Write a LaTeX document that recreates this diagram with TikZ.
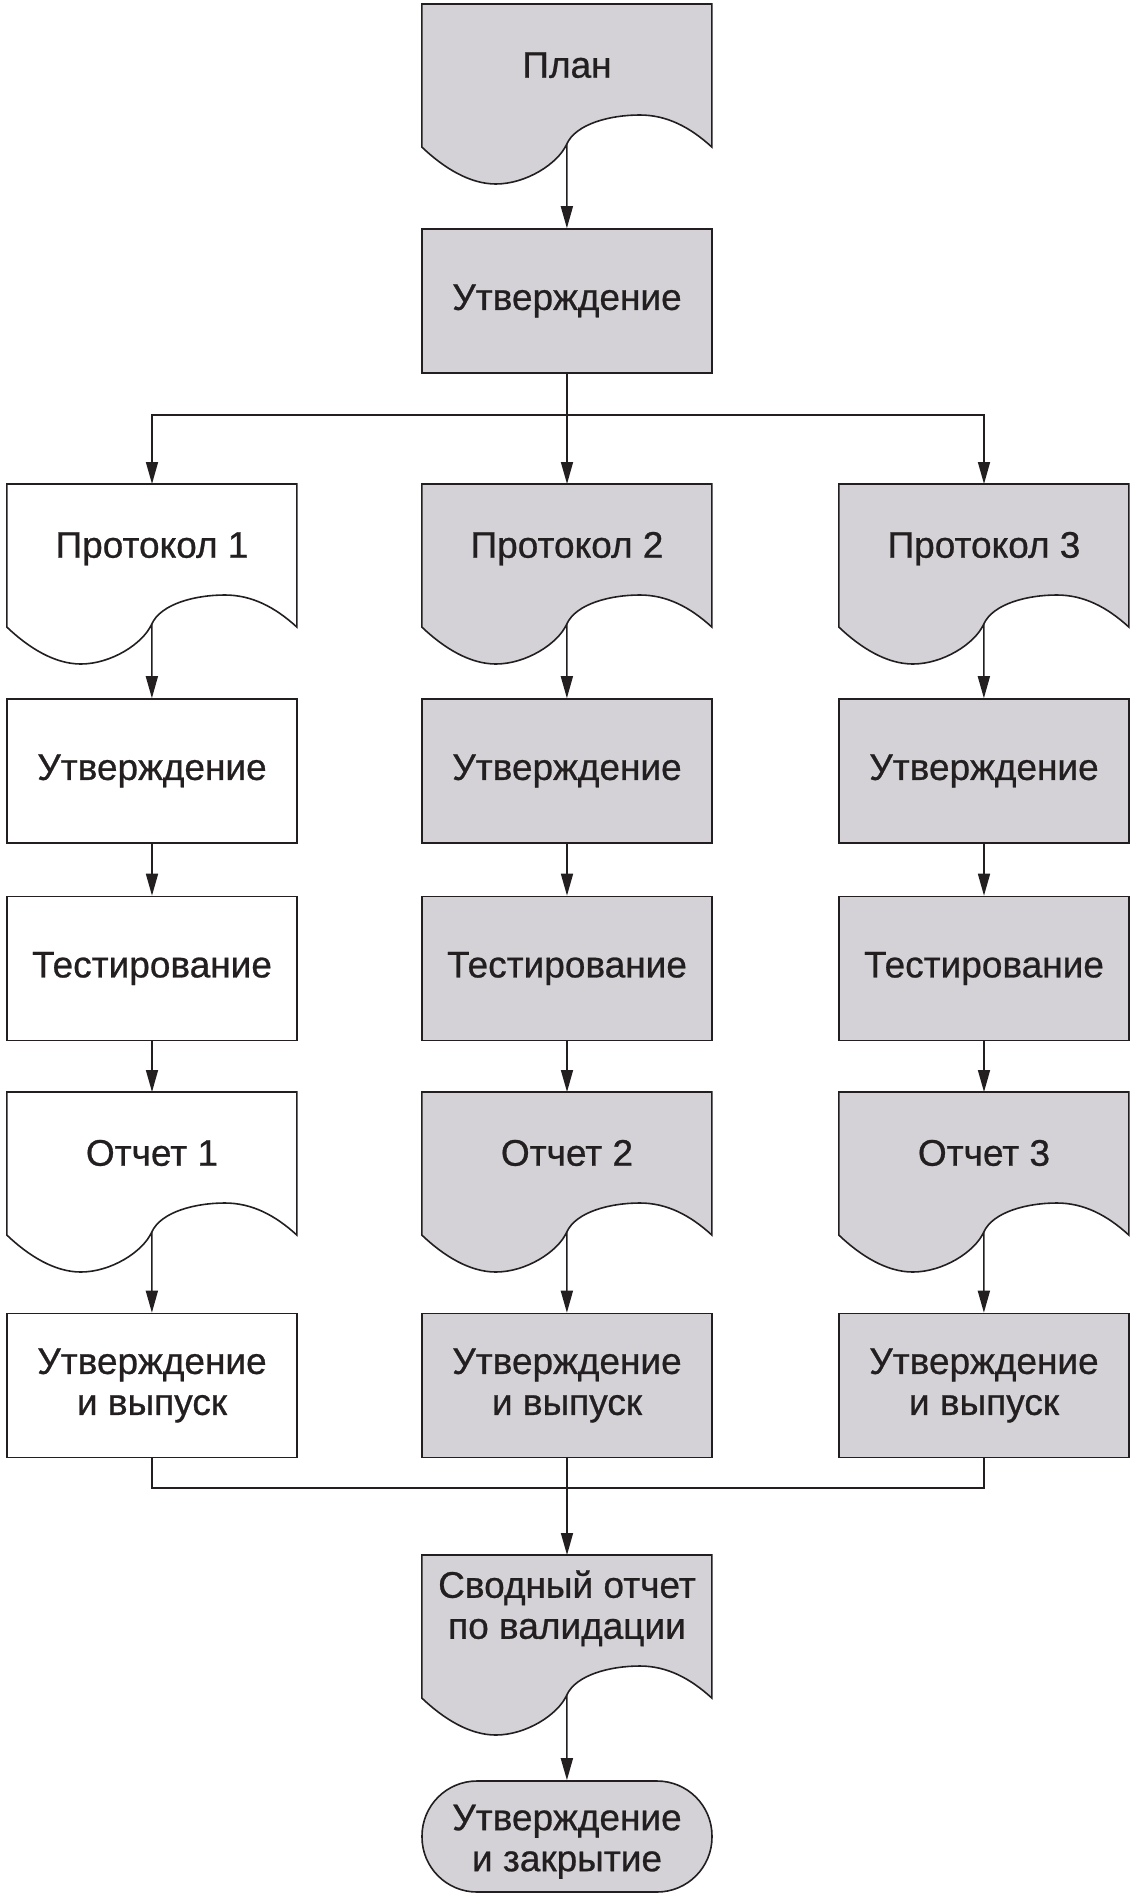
\documentclass[tikz,border=0pt]{standalone}
\usepackage{fontspec}
\setmainfont{Liberation Sans}[FakeBold=0.7]
\usetikzlibrary{arrows.meta,backgrounds,calc}
\definecolor{shade}{HTML}{D4D2D6}
\definecolor{ink}{HTML}{231F20}
\tikzset{
  txt/.style={text=ink, font=\fontsize{37}{41}\selectfont, align=center, inner sep=2pt},
  box/.style={txt, draw=ink, line width=1.6pt, minimum width=290pt, minimum height=144pt},
  doc/.style={txt, minimum width=290pt, minimum height=128pt, anchor=north},
  doc1/.style={doc, text height=27pt, text depth=8pt},
  term/.style={txt, draw=ink, line width=1.6pt, minimum width=290pt, minimum height=111pt, rounded corners=55pt},
  arr/.style={draw=ink, line width=1.6pt, -{Triangle[length=22pt,width=12pt]}},
  link/.style={draw=ink, line width=1.6pt},
}
\newcommand\docshape[2]{%
  \begin{pgfonlayer}{background}
  \filldraw[draw=ink, line width=1.6pt, fill=#2, shift={(#1.north west)}]
    (0,0) -- (290,0) -- (290,-143)
    .. controls (268,-123) and (245,-111) .. (218,-111)
    .. controls (188,-111) and (154,-120) .. (145,-140) coordinate (#1-o)
    .. controls (136,-160) and (104,-180) .. (74,-180)
    .. controls (48,-180) and (22,-164) .. (0,-143) -- cycle;
  \end{pgfonlayer}}
\begin{document}
\begin{tikzpicture}[x=1pt,y=1pt]
\useasboundingbox (0,0) rectangle (1133,-1896);
\node[doc1] (plan) at (567,-4) {План};
\docshape{plan}{shade}
\node[box,fill=shade] (a0) at (567,-301) {Утверждение};
\draw[arr] (plan-o) -- (a0);
\coordinate (br) at (567,-415);
\foreach \c/\x/\f in {1/152/white,2/567/shade,3/984/shade}{
  \node[doc1] (p\c) at (\x,-484) {Протокол \c};
  \docshape{p\c}{\f}
  \node[box,fill=\f] (a\c) at (\x,-771) {Утверждение};
  \node[box,fill=\f] (t\c) at (\x,-968.5) {Тестирование};
  \node[doc1] (r\c) at (\x,-1092) {Отчет \c};
  \docshape{r\c}{\f}
  \node[box,fill=\f] (u\c) at (\x,-1385.5) {Утверждение\\и выпуск};
  \draw[arr] (p\c-o) -- (a\c);
  \draw[arr] (a\c) -- (t\c);
  \draw[arr] (t\c) -- (r\c);
  \draw[arr] (r\c-o) -- (u\c);
}
\draw[link] (a0.south) -- (br);
\draw[arr] (br) -| (p1);
\draw[arr] (br) -- (p2);
\draw[arr] (br) -| (p3);
\coordinate (mg) at (567,-1488);
\draw[link] (u1.south) |- (mg) -| (u3.south);
\draw[link] (u2.south) -- (mg);
\node[doc, minimum height=106pt] (s) at (567,-1555) {Сводный отчет\\по валидации};
\docshape{s}{shade}
\draw[arr] (mg) -- (s);
\node[term, fill=shade] (e) at (567,-1836.5) {\rule{0pt}{36pt}Утверждение\\и закрытие};
\draw[arr] (s-o) -- (e);
\end{tikzpicture}
\end{document}
